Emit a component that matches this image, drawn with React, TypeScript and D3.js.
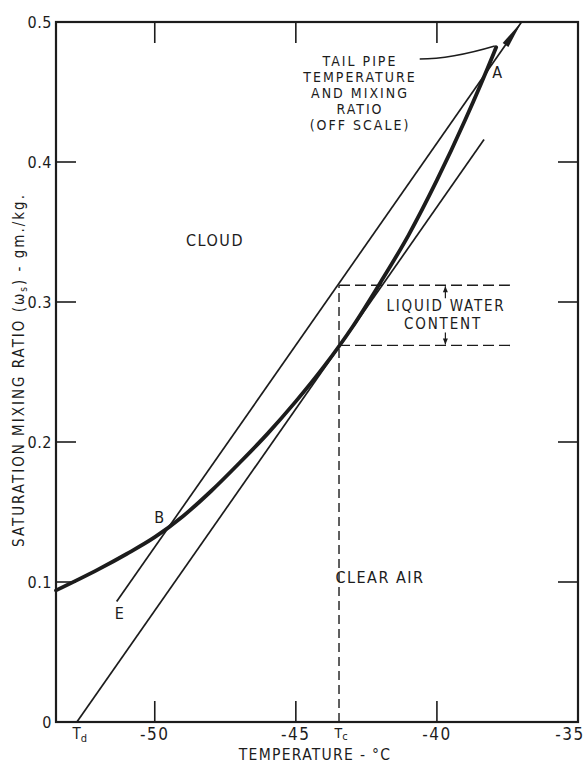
import * as d3 from 'd3'

// saturation mixing ratio curve (heavy line)
const satTemps = [-53.5, -52, -51, -50, -49, -48, -47, -46, -45, -44, -43, -42, -41, -40, -39, -38, -37.9]
const satValues = [0.094, 0.109, 0.12, 0.132, 0.147, 0.165, 0.185, 0.206, 0.229, 0.254, 0.282, 0.314, 0.348, 0.387, 0.43, 0.477, 0.482]

// line from Td
const tdLineTemps = [-52.76, -38.33]
const tdLineValues = [0, 0.416]

// mixing line E -> tail pipe (off scale)
const mixTemps = [-51.35, -37.0]
const mixValues = [0.086, 0.5]

const tcTemp = -43.47
const lwcTop = 0.312
const lwcBottom = 0.269
const lwcEnd = -37.3
const lwcArrowTemp = -39.7

// leader from the tail pipe note to A
const leaderTemps = [-40.61, -39.5, -37.95]
const leaderValues = [0.4736, 0.4736, 0.4829]

const xTicks = [-50, -45, -40, -35]
const xTickLabels = ['-50', '-45', '-40', '-35']
const yTicks = [0, 0.1, 0.2, 0.3, 0.4, 0.5]
const yTickLabels = ['0', '0.1', '0.2', '0.3', '0.4', '0.5']
const innerTicksX = [-50, -45, -40]
const innerTicksY = [0.1, 0.2, 0.3, 0.4]

const tailPipeNote = ['TAIL PIPE', 'TEMPERATURE', 'AND MIXING', 'RATIO', '(OFF SCALE)']

const W = 587
const H = 763
const ink = '#1c1c1c'
const font = "'DejaVu Sans Condensed', 'DejaVu Sans', sans-serif"

export default function App() {
  const x = d3.scaleLinear().domain([-53.5, -35]).range([56, 578])
  const y = d3.scaleLinear().domain([0, 0.5]).range([722, 22])
  const [x0, x1] = x.range()
  const [y0, y1] = y.range()

  const satLine = d3.line<number>()
    .x((_, i) => x(satTemps[i]))
    .y(d => y(d))
    .curve(d3.curveMonotoneX)

  const straight = (ts: number[], vs: number[]) =>
    d3.line<number>().x((_, i) => x(ts[i])).y(d => y(d))(vs) || ''

  const leader = d3.path()
  leader.moveTo(x(leaderTemps[0]), y(leaderValues[0]))
  leader.quadraticCurveTo(x(leaderTemps[1]), y(leaderValues[1]), x(leaderTemps[2]), y(leaderValues[2]))

  // narrow arrow head at the top of the mixing line
  const tipX = x(mixTemps[1])
  const tipY = y(mixValues[1])
  const ang = Math.atan2(tipY - y(mixValues[0]), tipX - x(mixTemps[0]))
  const len = 28
  const half = 3.5
  const bx = tipX - len * Math.cos(ang)
  const by = tipY - len * Math.sin(ang)
  const head = [
    [tipX, tipY],
    [bx + half * Math.sin(ang), by - half * Math.cos(ang)],
    [bx - half * Math.sin(ang), by + half * Math.cos(ang)],
  ]

  const ax = x(lwcArrowTemp)
  const smallArrow = (tip: number, dir: number) => {
    const tail = tip + dir * 12
    return (
      <g>
        <line x1={ax} x2={ax} y1={tail} y2={tip} stroke={ink} strokeWidth={1.2} />
        <path d={`M${ax},${tip} L${ax - 2.5},${tip + dir * 6} L${ax + 2.5},${tip + dir * 6} Z`} fill={ink} />
      </g>
    )
  }

  const label = { fontSize: 16, letterSpacing: 1.5 }

  return (
    <div style={{ position: 'absolute', left: 0, top: 0 }}>
      <svg width={W} height={H} style={{ display: 'block', background: '#fff' }} fontFamily={font} fill={ink}>
        {/* frame */}
        <rect x={x0} y={y1} width={x1 - x0} height={y0 - y1} fill="none" stroke={ink} strokeWidth={2.2} />

        {/* inner ticks */}
        {innerTicksY.map(v => (
          <g key={'ty' + v}>
            <line x1={x0} x2={x0 + 20} y1={y(v)} y2={y(v)} stroke={ink} strokeWidth={1.6} />
            <line x1={x1} x2={x1 - 20} y1={y(v)} y2={y(v)} stroke={ink} strokeWidth={1.6} />
          </g>
        ))}
        {innerTicksX.map(v => (
          <g key={'tx' + v}>
            <line x1={x(v)} x2={x(v)} y1={y0} y2={y0 - 21} stroke={ink} strokeWidth={1.6} />
            <line x1={x(v)} x2={x(v)} y1={y1} y2={y1 + 21} stroke={ink} strokeWidth={1.6} />
          </g>
        ))}

        {/* tick labels */}
        {yTicks.map((v, i) => (
          <text key={'ly' + v} x={x0 - 4} y={y(v)} dy="0.36em" textAnchor="end" fontSize={16} letterSpacing={0.5}>
            {yTickLabels[i]}
          </text>
        ))}
        {xTicks.map((v, i) => (
          <text key={'lx' + v} x={x(v) + (v === -35 ? -8 : 0)} y={y0 + 12} dy="0.36em" textAnchor="middle" fontSize={17} letterSpacing={1.5}>
            {xTickLabels[i]}
          </text>
        ))}
        <text x={x(tdLineTemps[0]) + 3} y={y0 + 17} textAnchor="middle" fontSize={15}>
          T<tspan fontSize={11} dy={3}>d</tspan>
        </text>
        <text x={x(tcTemp) + 2} y={y0 + 16} textAnchor="middle" fontSize={14}>
          T<tspan fontSize={11} dy={2}>c</tspan>
        </text>

        {/* axis titles */}
        <text x={315} y={760} textAnchor="middle" fontSize={15.5} letterSpacing={1.3}>TEMPERATURE - °C</text>
        <text transform={`translate(19,370) rotate(-90)`} textAnchor="middle" dy="0.36em" fontSize={15} letterSpacing={2}>
          SATURATION MIXING RATIO (ω<tspan fontSize={10} dy={3}>s</tspan><tspan dy={-3}>) - gm./kg.</tspan>
        </text>

        {/* liquid water content */}
        <line x1={x(tcTemp)} x2={x(tcTemp)} y1={y(0)} y2={y(lwcTop)} stroke={ink} strokeWidth={1.4} strokeDasharray="9,5" />
        <line x1={x(tcTemp)} x2={x(lwcEnd)} y1={y(lwcTop)} y2={y(lwcTop)} stroke={ink} strokeWidth={1.4} strokeDasharray="11,5" />
        <line x1={x(tcTemp)} x2={x(lwcEnd)} y1={y(lwcBottom)} y2={y(lwcBottom)} stroke={ink} strokeWidth={1.4} strokeDasharray="11,5" />
        {smallArrow(y(lwcTop) + 1, 1)}
        {smallArrow(y(lwcBottom) - 1, -1)}

        {/* lines */}
        <path d={straight(tdLineTemps, tdLineValues)} fill="none" stroke={ink} strokeWidth={1.7} />
        <path d={straight(mixTemps, mixValues)} fill="none" stroke={ink} strokeWidth={1.7} />
        <polygon points={head.map(p => p.join(',')).join(' ')} fill={ink} />
        <path d={satLine(satValues) || ''} fill="none" stroke={ink} strokeWidth={3.8} strokeLinecap="round" />
        <path d={leader.toString()} fill="none" stroke={ink} strokeWidth={1.5} />

        {/* annotations */}
        {tailPipeNote.map((t, i) => (
          <text key={t} x={360} y={66 + i * 16} textAnchor="middle" fontSize={14} letterSpacing={2}>{t}</text>
        ))}
        <text x={498} y={72} dy="0.36em" textAnchor="middle" {...label}>A</text>
        <text x={215} y={240} dy="0.36em" textAnchor="middle" {...label}>CLOUD</text>
        <text x={446} y={306} dy="0.36em" textAnchor="middle" fontSize={15} letterSpacing={1.8}>LIQUID WATER</text>
        <text x={443} y={324} dy="0.36em" textAnchor="middle" fontSize={15} letterSpacing={1.8}>CONTENT</text>
        <text x={380} y={577} dy="0.36em" textAnchor="middle" {...label}>CLEAR AIR</text>
        <text x={160} y={517} dy="0.36em" textAnchor="middle" {...label}>B</text>
        <text x={120} y={613} dy="0.36em" textAnchor="middle" {...label}>E</text>
      </svg>
    </div>
  )
}
